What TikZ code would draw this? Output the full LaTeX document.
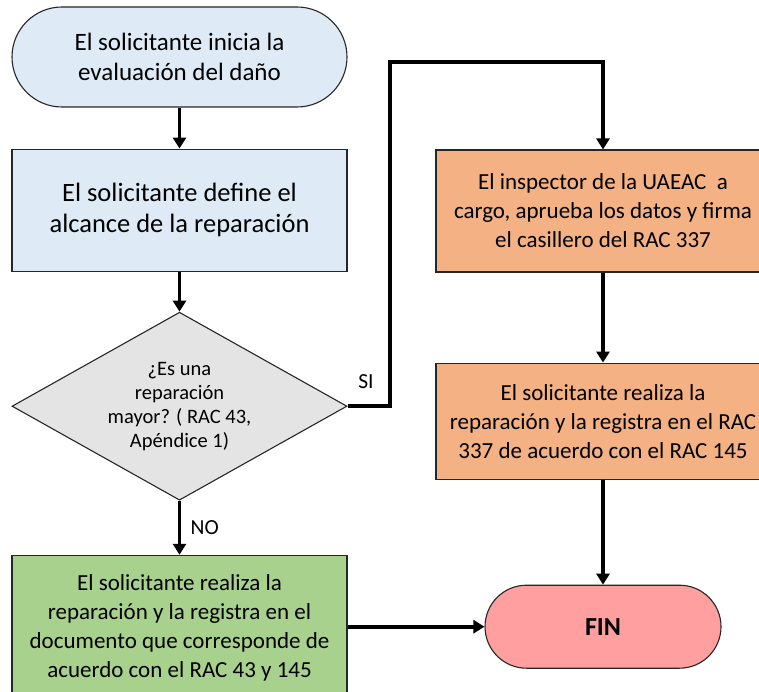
\documentclass[tikz,border=0pt]{standalone}
\usepackage{fontspec}
\setmainfont{Carlito}
\usepackage{tikz}
\usetikzlibrary{arrows.meta,positioning,shapes.geometric}
\definecolor{startblue}{HTML}{DEEBF7}
\definecolor{askgray}{HTML}{E4E4E4}
\definecolor{uaeacorange}{HTML}{F4B183}
\definecolor{minorgreen}{HTML}{A9D18E}
\definecolor{finpink}{HTML}{FF9F9F}
\tikzstyle{terminal}=[draw=black!85,line width=1.1pt,rounded corners=50pt,minimum width=335pt,minimum height=100pt,align=center,font=\fontsize{25}{30}\selectfont]
\tikzstyle{process}=[draw=black!85,line width=1.1pt,minimum width=335pt,minimum height=122pt,align=center,font=\fontsize{23}{29}\selectfont]
\tikzstyle{decision}=[draw=black!85,line width=1.1pt,diamond,aspect=1.78,inner sep=0pt,minimum width=335pt,minimum height=188pt,align=center,fill=askgray,font=\fontsize{20.5}{24}\selectfont]
\tikzstyle{flow}=[line width=3.6pt,-{Triangle[width=13pt,length=11pt]}]
\tikzstyle{answer}=[font=\fontsize{21.5}{24}\selectfont]

\begin{document}
\begin{tikzpicture}[x=1pt,y=-1pt]
\useasboundingbox (0,0) rectangle (759,692);
% left column
\node [terminal,fill=startblue] (start) at (179.5,57) {El solicitante inicia la\\evaluación del daño};
\node [process,fill=startblue,font=\fontsize{26.5}{31}\selectfont,below=41pt of start] (scope) {El solicitante define el\\alcance de la reparación};
\node [decision,below=40pt of scope] (major) {¿Es una\\reparación\\mayor? ( RAC 43,\\Apéndice 1)};
\node [process,fill=minorgreen,minimum height=145pt,below=54pt of major] (minor) {El solicitante realiza la\\reparación y la registra en el\\documento que corresponde de\\acuerdo con el RAC 43 y 145};
% right column
\node [process,fill=uaeacorange,minimum width=334pt] (inspector) at (603,211) {El inspector de la UAEAC\ \ a\\cargo, aprueba los datos y firma\\el casillero del RAC 337};
\node [process,fill=uaeacorange,minimum width=334pt,minimum height=116pt,below=90pt of inspector] (repair) {El solicitante realiza la\\reparación y la registra en el RAC\\337 de acuerdo con el RAC 145};
\node [terminal,fill=finpink,rounded corners=41.5pt,minimum width=236pt,minimum height=83pt,font=\fontsize{26}{30}\selectfont\bfseries,below=105pt of repair] (fin) {FIN};
% connectors
\coordinate (bend) at (390,62);
\draw [flow] (start) -- (scope);
\draw [flow] (scope) -- (major);
\draw [flow] (major) -- node [answer,right=6pt] {NO} (minor);
\draw [flow] (major.east) -| (bend) -| (inspector.north);
\node [answer] (si) at (366,382) {SI};
\draw [flow] (inspector) -- (repair);
\draw [flow] (repair) -- (fin);
\draw [flow] (minor.east |- fin.west) -- (fin.west);
\end{tikzpicture}
\end{document}
